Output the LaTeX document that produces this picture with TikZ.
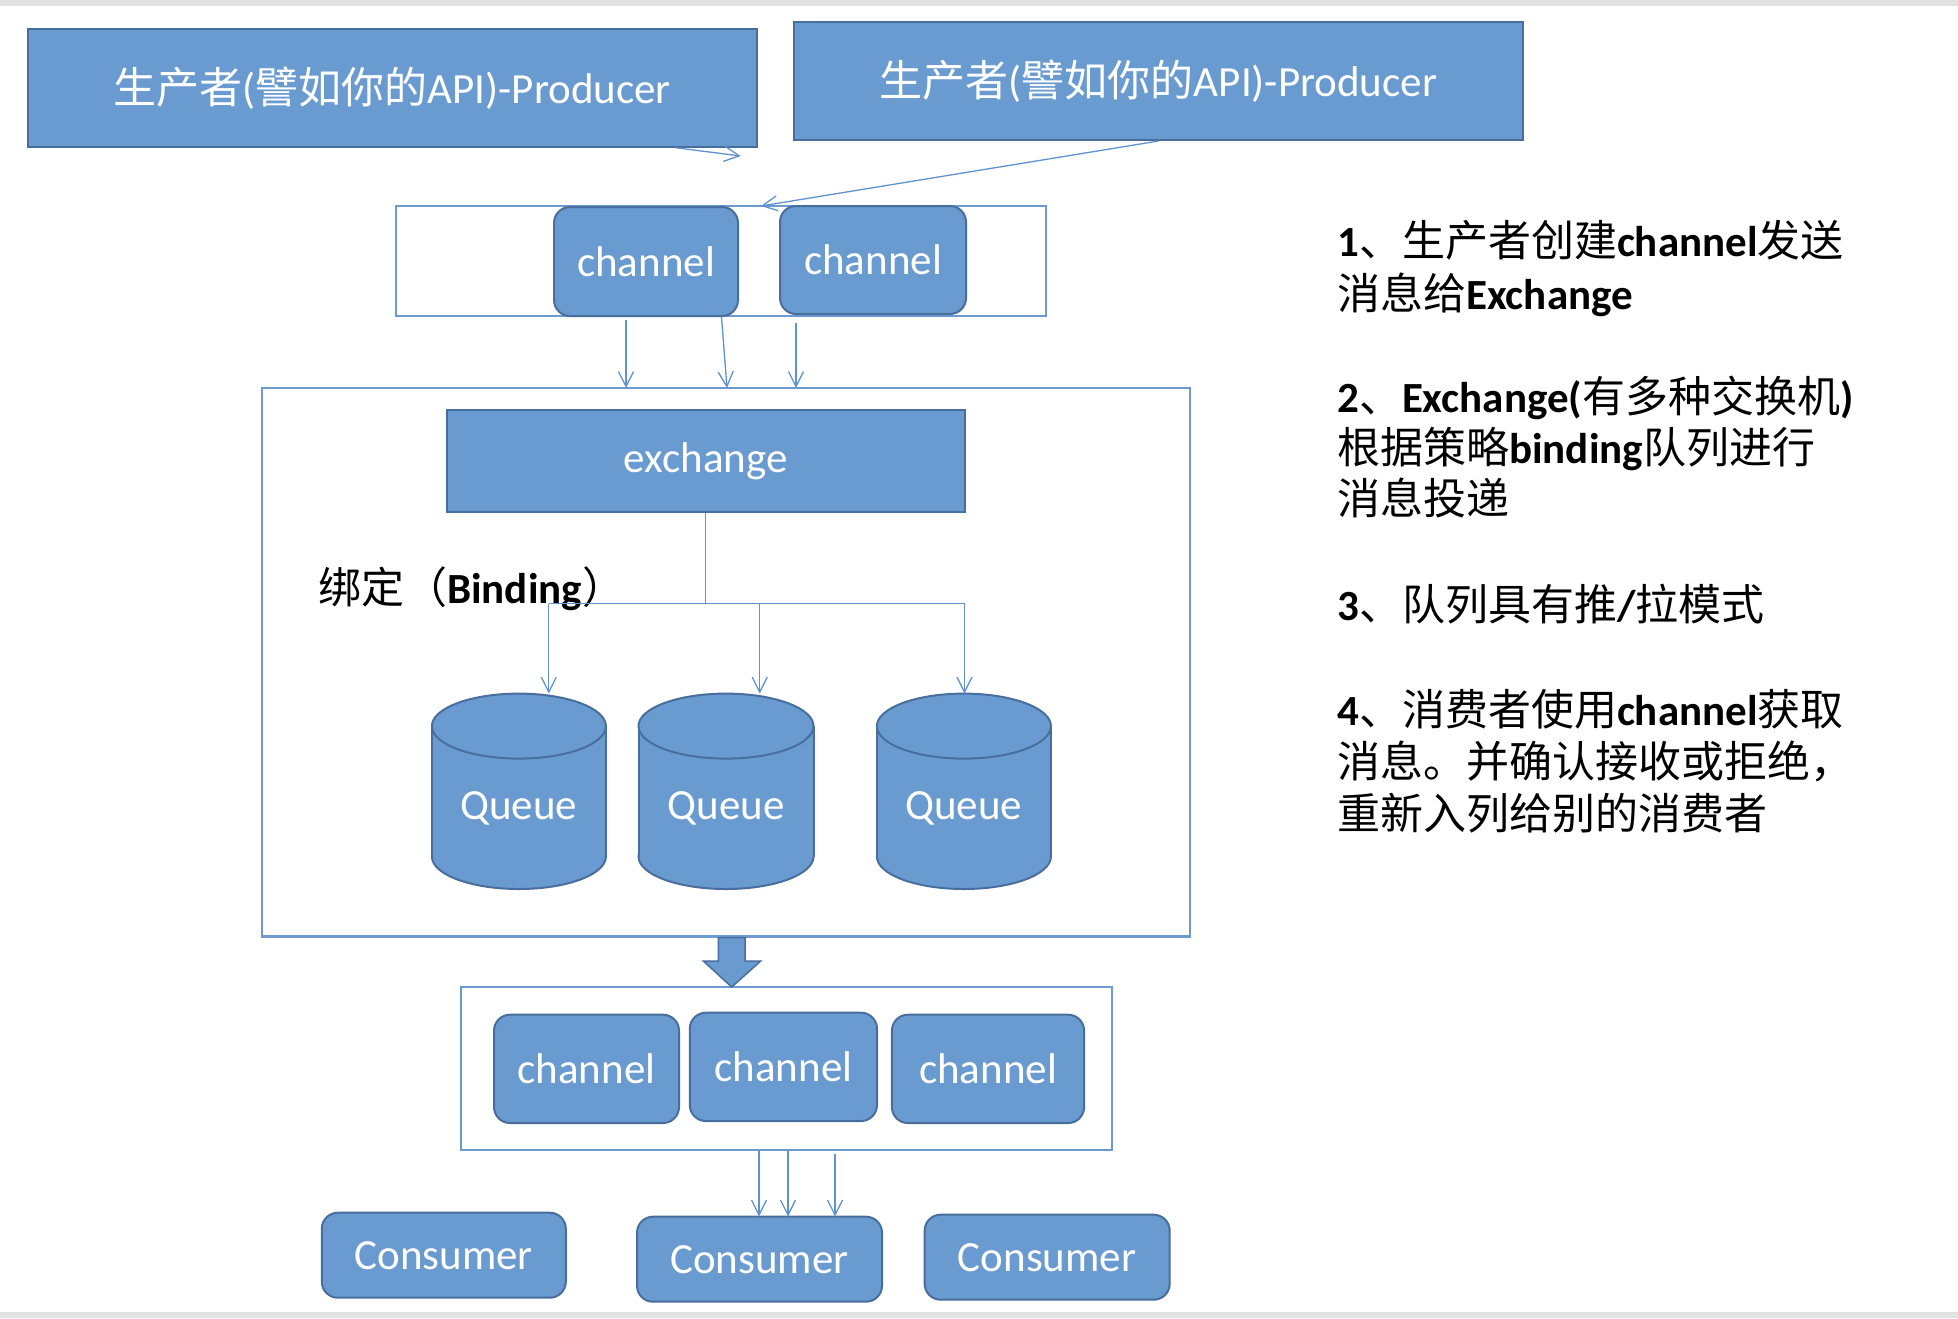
\documentclass[tikz,border=0pt]{standalone}
\usepackage{fontspec}
\setmainfont{Carlito}
\newfontfamily\cjk{Noto Sans CJK SC}
\usetikzlibrary{arrows.meta}
\newcommand\zh[1]{{\cjk\mdseries #1}}
\definecolor{boxfill}{RGB}{106,155,208}
\definecolor{boxline}{RGB}{72,110,158}
\definecolor{frameline}{RGB}{108,155,210}
\definecolor{connline}{RGB}{96,146,208}
\definecolor{stripgray}{RGB}{226,226,226}
\tikzset{
  bluebox/.style={fill=boxfill, draw=boxline, line width=2pt, text=white, inner sep=0pt,
    font=\fontsize{43}{52}\selectfont},
  chanbox/.style={bluebox, rounded corners=16pt},
  framebox/.style={draw=frameline, line width=2.2pt, fill=none},
  conn/.style={draw=connline, line width=1.3pt},
  connarrow/.style={conn, -{Straight Barb[length=15pt,width=15pt]}},
  lbl/.style={inner sep=0pt, font=\fontsize{43}{52}\selectfont\bfseries, text=black},
  qtext/.style={inner sep=0pt, text=white, font=\fontsize{43}{52}\selectfont},
}
\begin{document}
\begin{tikzpicture}[x=1pt,y=-1pt]
\useasboundingbox (0,0) rectangle (1958,1318);
\fill[white] (0,0) rectangle (1958,1318);
\fill[stripgray] (0,0) rectangle (1958,5.5);
\fill[stripgray] (0,1312) rectangle (1958,1318);

% producers
\node[bluebox, minimum width=729.5pt, minimum height=117.5pt] (p1) at (392.25,88)
  {\zh{生产者}(\zh{譬如你的}API)-Producer};
\node[bluebox, minimum width=729pt, minimum height=118.5pt] (p2) at (1158.5,80.75)
  {\zh{生产者}(\zh{譬如你的}API)-Producer};

% top channel frame
\node[framebox, minimum width=650pt, minimum height=110pt, inner sep=0pt] (tf) at (721,260.7) {};
\node[chanbox, minimum width=184pt, minimum height=109pt] (tc1) at (646,261.5) {channel};
\node[chanbox, minimum width=186pt, minimum height=108pt] (tc2) at (873,260) {channel};

% big frame
\node[framebox, minimum width=928pt, minimum height=548.5pt, inner sep=0pt] (bf) at (726,662.25) {};
\node[bluebox, minimum width=517.5pt, minimum height=102.4pt] (ex) at (705.75,460.8) {exchange};

\node[lbl, anchor=base west] (bind) at (318,603) {\zh{绑定（}Binding\zh{）}};

% queues
\foreach \n/\cx/\rx in {q1/518.9/87, q2/726/87.5, q3/963.9/87}{
  \fill[boxfill, draw=boxline, line width=2pt] (\cx,856.5) ellipse [x radius=\rx pt, y radius=32.5pt];
  \fill[boxfill] (\cx-\rx,726.1) rectangle (\cx+\rx,856.5);
  \draw[boxline, line width=2pt] (\cx-\rx,726.1) -- (\cx-\rx,856.5) (\cx+\rx,726.1) -- (\cx+\rx,856.5);
  \fill[boxfill, draw=boxline, line width=2pt] (\cx,726.1) ellipse [x radius=\rx pt, y radius=32.5pt];
  \node[qtext] (\n) at (\cx,808) {Queue};
}

% bottom channel frame
\node[framebox, minimum width=650.7pt, minimum height=163pt, inner sep=0pt] (bcf) at (786.35,1068.2) {};
\node[chanbox, minimum width=185pt, minimum height=108.3pt] (bc1) at (586.5,1068.85) {channel};
\node[chanbox, minimum width=187.2pt, minimum height=108.3pt] (bc2) at (783.4,1066.85) {channel};
\node[chanbox, minimum width=192.2pt, minimum height=108.3pt] (bc3) at (988,1068.85) {channel};

% consumers
\node[chanbox, minimum width=244pt, minimum height=85pt] (c1) at (443.8,1255.2) {Consumer};
\node[chanbox, minimum width=245pt, minimum height=85pt] (c2) at (759.5,1259.2) {Consumer};
\node[chanbox, minimum width=245.1pt, minimum height=85pt] (c3) at (1047.15,1257.2) {Consumer};

% connectors: producers
\coordinate (a1e) at (740.7,156);
\draw[connarrow] ([xshift=-82pt]p1.south east) -- (a1e);
\coordinate (a2e) at (761,206);
\draw[connarrow] (p2.south) -- (a2e);

% top frame to big frame
\coordinate (d1s) at (626,320); \coordinate (d1e) at (626,388);
\coordinate (d2s) at (721.5,317); \coordinate (d2e) at (727,388);
\coordinate (d3s) at (796,323); \coordinate (d3e) at (796,388);
\draw[connarrow] (d1s) -- (d1e);
\draw[connarrow] (d2s) -- (d2e);
\draw[connarrow] (d3s) -- (d3e);

% bindings
\coordinate (bj) at (705.75,603.6);
\coordinate (b1) at (548.8,603.6);
\coordinate (b2) at (759.7,603.6);
\coordinate (b3) at (964.5,603.6);
\coordinate (q1t) at (548.8,693.6);
\coordinate (q2t) at (759.7,693.6);
\coordinate (q3t) at (964.5,693.6);
\draw[conn] (ex.south) -- (bj);
\draw[conn] (b1) -- (b3);
\draw[connarrow] (b1) -- (q1t);
\draw[connarrow] (b2) -- (q2t);
\draw[connarrow] (b3) -- (q3t);

% block arrow
\fill[boxfill, draw=boxline, line width=1.5pt]
  (718.3,937.5) -- (745,937.5) -- (745,961) -- (760.7,961) -- (731.7,987) -- (703.3,961) -- (718.3,961) -- cycle;

% bottom frame to consumer
\coordinate (e1s) at (759,1151); \coordinate (e1e) at (759,1216.5);
\coordinate (e2s) at (788,1151); \coordinate (e2e) at (788,1216.5);
\coordinate (e3s) at (835,1154); \coordinate (e3e) at (835,1216.5);
\draw[connarrow] (e1s) -- (e1e);
\draw[connarrow] (e2s) -- (e2e);
\draw[connarrow] (e3s) -- (e3e);

% right text
\node[lbl, anchor=base west] (t1a) at (1337,256) {1\zh{、生产者创建}channel\zh{发送}};
\node[lbl, anchor=base west] (t1b) at (1337,309) {\zh{消息给}Exchange};
\node[lbl, anchor=base west] (t2a) at (1337,412) {2\zh{、}Exchange(\zh{有多种交换机})};
\node[lbl, anchor=base west] (t2b) at (1337,463) {\zh{根据策略}binding\zh{队列进行}};
\node[lbl, anchor=base west] (t2c) at (1337,514) {\zh{消息投递}};
\node[lbl, anchor=base west] (t3a) at (1337,620) {3\zh{、队列具有推}/\zh{拉模式}};
\node[lbl, anchor=base west] (t4a) at (1337,725) {4\zh{、消费者使用}channel\zh{获取}};
\node[lbl, anchor=base west] (t4b) at (1337,777) {\zh{消息。并确认接收或拒绝，}};
\node[lbl, anchor=base west] (t4c) at (1337,829) {\zh{重新入列给别的消费者}};
\end{tikzpicture}
\end{document}
